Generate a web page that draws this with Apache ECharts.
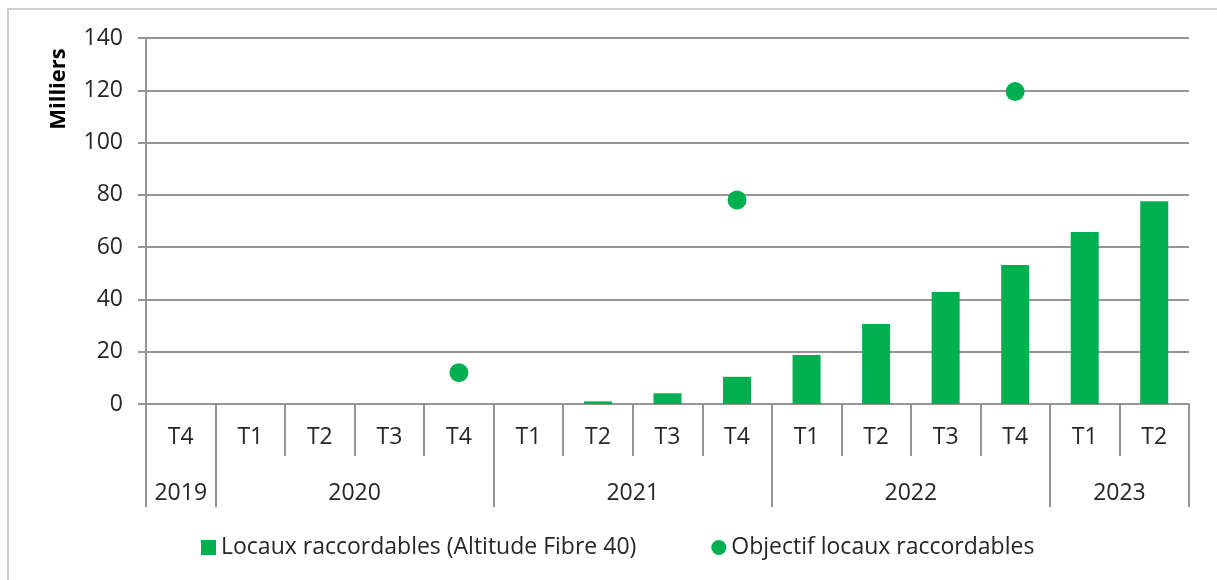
<!DOCTYPE html>
<html>
<head>
<meta charset="utf-8">
<script src="https://cdn.jsdelivr.net/npm/echarts@6/dist/echarts.min.js"></script>
<style>
  html, body { margin: 0; padding: 0; background: #fff; }
  .frame {
    position: absolute; left: 7px; top: 8px; width: 1300px; height: 700px;
    border-left: 2px solid #d0d0d0; border-top: 2px solid #d0d0d0;
  }
  #chart { position: absolute; left: 0; top: 0; width: 1217px; height: 580px; }
</style>
</head>
<body>
<div class="frame"></div>
<div id="chart"></div>
<script>
const quarters = ['T4', 'T1', 'T2', 'T3', 'T4', 'T1', 'T2', 'T3', 'T4', 'T1', 'T2', 'T3', 'T4', 'T1', 'T2']
const years = ['2019', '2020', '2021', '2022', '2023']
// position of each year label (centre of its group) and of the group borders, in quarters
const yearCentres = [0.5, 3, 7, 11, 14]
const yearBorders = [0, 1, 5, 9, 13, 15]

const locauxRaccordables = [0, 0, 0, 0, 0, 0, 1, 4.1, 10.4, 18.7, 30.6, 42.8, 53.2, 65.8, 77.6]
const objectif = [null, null, null, null, 12, null, null, null, 78, null, null, null, 119.5, null, null]

const green = '#00b050'
const gridGray = '#959595'
const textColor = '#262626'
const font = 'Open Sans'

const myChart = echarts.init(document.getElementById('chart'))
var option
option = {
  animation: false,
  textStyle: { fontFamily: font },
  grid: { left: 146, right: 28, top: 38, bottom: 176 },
  legend: {
    bottom: 16,
    left: 196,
    itemGap: 75,
    itemWidth: 15,
    itemHeight: 15,
    textStyle: { fontSize: 23, color: textColor, fontFamily: font },
    data: [
      { name: 'Locaux raccordables (Altitude Fibre 40)', icon: 'rect' },
      { name: 'Objectif locaux raccordables', icon: 'circle' }
    ]
  },
  graphic: [{
    type: 'text',
    x: 59,
    y: 89,
    rotation: Math.PI / 2,
    style: {
      text: 'Milliers',
      font: 'bold 22px "Open Sans"',
      fill: '#000',
      align: 'center',
      verticalAlign: 'middle'
    }
  }],
  xAxis: [
    {
      type: 'category',
      data: quarters,
      position: 'bottom',
      axisLine: { lineStyle: { color: gridGray, width: 2 } },
      axisTick: { show: true, interval: 0, length: 52, lineStyle: { color: gridGray, width: 2 } },
      axisLabel: { interval: 0, margin: 22, fontSize: 23, color: textColor }
    },
    {
      type: 'value',
      min: 0,
      max: 15,
      position: 'bottom',
      axisLine: { show: false },
      splitLine: { show: false },
      axisTick: { show: true, length: 103, customValues: yearBorders, lineStyle: { color: gridGray, width: 2 } },
      axisLabel: {
        customValues: yearCentres,
        margin: 78,
        fontSize: 23,
        color: textColor,
        formatter: function (v) { return years[yearCentres.indexOf(v)] }
      }
    }
  ],
  yAxis: {
    type: 'value',
    min: 0,
    max: 140,
    interval: 20,
    axisLine: { show: true, lineStyle: { color: gridGray, width: 2 } },
    axisTick: { show: true, length: 8, lineStyle: { color: gridGray, width: 2 } },
    axisLabel: { margin: 23, fontSize: 23, color: textColor },
    splitLine: { lineStyle: { color: gridGray, width: 2 } }
  },
  series: [
    {
      name: 'Locaux raccordables (Altitude Fibre 40)',
      type: 'bar',
      barWidth: 28,
      itemStyle: { color: green },
      data: locauxRaccordables
    },
    {
      name: 'Objectif locaux raccordables',
      type: 'scatter',
      symbolSize: 19,
      itemStyle: { color: green, opacity: 1 },
      data: objectif
    }
  ]
}

option && myChart.setOption(option)
</script>
</body>
</html>
